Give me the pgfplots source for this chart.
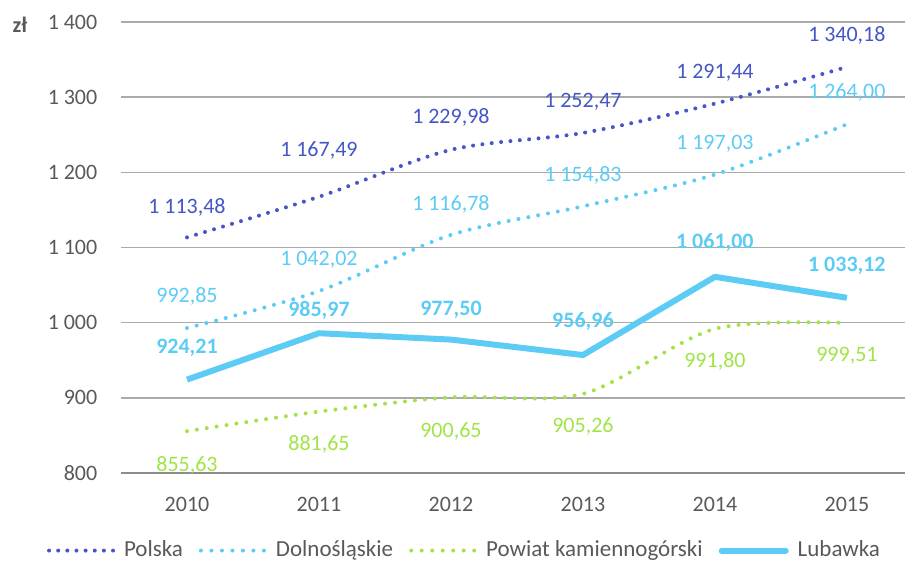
\documentclass[border=0pt]{standalone}
\usepackage{pgfplots}
\usepackage{pgfplotstable}
\pgfplotsset{compat=1.18}
\usepackage{fontspec}
\setmainfont{Carlito}
\definecolor{polska}{RGB}{68,86,200}
\definecolor{dolno}{RGB}{92,204,245}
\definecolor{lub}{RGB}{92,204,245}
\definecolor{powiat}{RGB}{160,228,72}
\definecolor{txtgray}{RGB}{89,89,89}
\definecolor{gridgray}{RGB}{170,170,170}
\definecolor{axgray}{RGB}{140,140,140}

\pgfplotstableread{
x y dy
0 1113.48 15
1 1167.49 23
2 1229.98 16
3 1252.47 15.5
4 1291.44 15.5
5 1340.18 16
}\polska
\pgfplotstableread{
x y dy
0 992.85 16
1 1042.02 15.5
2 1116.78 15.5
3 1154.83 15.5
4 1197.03 15.5
5 1264.00 16
}\dolno
\pgfplotstableread{
x y dy
0 855.63 -17
1 881.65 -16.5
2 900.65 -17
3 905.26 -16.5
4 991.80 -16.5
5 999.51 -16.5
}\powiat
\pgfplotstableread{
x y dy
0 924.21 16
1 985.97 11.5
2 977.50 15
3 956.96 17
4 1061.00 17
5 1033.12 16
}\lubawka

\tikzset{dots/.style={line width=2pt, line cap=round, dash pattern=on 0pt off 5pt},
  pdots/.style={line width=2pt, line cap=round, dash pattern=on 0pt off 4.7pt}}
\pgfplotsset{
  lbl/.style 2 args={
    nodes near coords={\pgfmathprintnumber[fixed,fixed zerofill,precision=2,use comma,1000 sep={\kern.22em}]{\pgfplotspointmeta}},
    point meta=y,
    visualization depends on={\thisrow{dy} \as \dy},
    every node near coord/.append style={anchor=center, yshift=\dy pt, text=#1, font=#2},
  },
}

\begin{document}
\fontsize{11}{13}\selectfont
\begin{tikzpicture}
\begin{axis}[
  at={(60.5pt,45pt)}, anchor=south west,
  scale only axis, width=392pt, height=225.5pt,
  xmin=-0.5, xmax=5.44, ymin=800, ymax=1400,
  clip=false,
  /pgf/number format/assume math mode=true,
  /pgf/number format/1000 sep={\kern.22em},
  xtick={0,1,2,3,4,5},
  xticklabels={2010,2011,2012,2013,2014,2015},
  ytick={800,900,1000,1100,1200,1300,1400},
  axis x line*=bottom, axis y line*=left,
  y axis line style={draw=none},
  x axis line style={draw=axgray, line width=0.8pt},
  ymajorgrids, major grid style={draw=gridgray, line width=0.7pt},
  tick label style={text=txtgray},
  xticklabel style={yshift=-8pt},
  yticklabel style={xshift=-8pt},
  x tick style={draw=none},
  y tick style={draw=none},
  extra x ticks={-0.5,0.5,1.5,2.5,3.5,4.5},
  extra x tick labels={},
  extra x tick style={tick style={draw=axgray, line width=0.8pt}, major tick length=4pt, tick align=outside, grid=none},
  legend columns=4,
  legend style={at={(0.4394,-0.1720)}, anchor=center, draw=none, fill=none, text=txtgray,
    font=\fontsize{11.5}{13}\selectfont,
    /tikz/every odd column/.append style={column sep=2.5pt},
    /tikz/every even column/.append style={column sep=6pt}},
  legend cell align=left,
]
\addplot[polska, pdots, smooth, tension=0.5, lbl={polska}{\normalfont},
  legend image code/.code={\draw[polska, line width=2pt, line cap=round, dash pattern=on 0pt off 4.57pt] (0pt,0pt) -- (32pt,0pt);}] table[x=x,y=y] {\polska};
\addlegendentry{Polska}
\addplot[dolno, dots, smooth, tension=0.5, lbl={dolno}{\normalfont},
  legend image code/.code={\draw[dolno, line width=2pt, line cap=round, dash pattern=on 0pt off 5.25pt] (0pt,0pt) -- (32pt,0pt);}] table[x=x,y=y] {\dolno};
\addlegendentry{Dolnośląskie}
\addplot[powiat, dots, smooth, tension=0.5, lbl={powiat}{\normalfont},
  legend image code/.code={\draw[powiat, line width=2pt, line cap=round, dash pattern=on 0pt off 5.25pt] (0pt,0pt) -- (32pt,0pt);}] table[x=x,y=y] {\powiat};
\addlegendentry{Powiat kamiennogórski}
\addplot[lub, line width=3pt, line join=round, lbl={lub}{\bfseries},
  legend image code/.code={\draw[lub, line width=3pt, line cap=round] (1.5pt,0pt) -- (33.5pt,0pt);}] table[x=x,y=y] {\lubawka};
\addlegendentry{Lubawka}
\node[font=\bfseries, text=txtgray, anchor=center] at (rel axis cs:0,1) [xshift=-50.5pt, yshift=-1.5pt] {zł};
\end{axis}
\pgfresetboundingbox
\useasboundingbox (0,0) rectangle (452.5pt,281.5pt);
\end{tikzpicture}
\end{document}
